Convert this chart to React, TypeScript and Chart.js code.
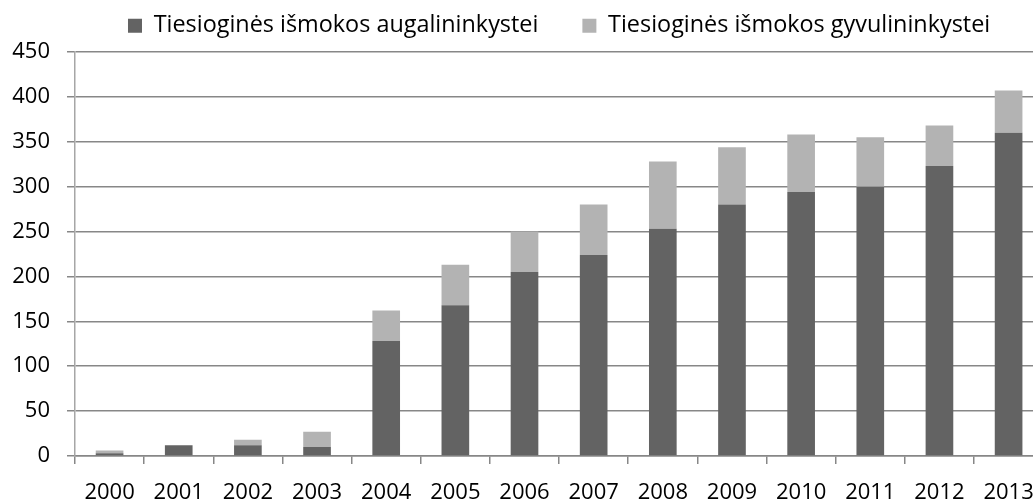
import React, { useEffect, useRef } from "react";
import { Chart, registerables } from "chart.js";

Chart.register(...registerables);

const years = ["2000", "2001", "2002", "2003", "2004", "2005", "2006", "2007", "2008", "2009", "2010", "2011", "2012", "2013"];
const cropPayments = [3, 12, 12, 10, 128, 168, 205, 224, 253, 280, 294, 300, 323, 360];
const livestockPayments = [3, 0, 6, 17, 34, 45, 45, 56, 75, 64, 64, 55, 45, 47];
const seriesLabels = ["Tiesioginės išmokos augalininkystei", "Tiesioginės išmokos gyvulininkystei"];
const yMin = 0;
const yMax = 450;
const yStep = 50;

const FONT = "'Open Sans', 'Noto Sans', sans-serif";

export default function App() {
  const ref = useRef<HTMLCanvasElement | null>(null);

  useEffect(() => {
    if (!ref.current) return;
    const chart = new Chart(ref.current, {
      type: "bar",
      data: {
        labels: years,
        datasets: [
          {
            label: seriesLabels[0],
            data: cropPayments,
            backgroundColor: "#636363",
            borderWidth: 0,
            barPercentage: 0.4,
            categoryPercentage: 1,
          },
          {
            label: seriesLabels[1],
            data: livestockPayments,
            backgroundColor: "#b3b3b3",
            borderWidth: 0,
            barPercentage: 0.4,
            categoryPercentage: 1,
          },
        ],
      },
      options: {
        responsive: false,
        animation: false,
        devicePixelRatio: 1,
        layout: { padding: { left: 0, right: 0, top: -30, bottom: 0 } },
        plugins: {
          tooltip: { enabled: false },
          legend: {
            position: "top",
            fullSize: false,
            labels: {
              boxWidth: 14,
              boxHeight: 14,
              padding: 44,
              color: "#000",
              font: { family: FONT, size: 23.4 },
            },
          },
        },
        scales: {
          x: {
            stacked: true,
            offset: true,
            grid: {
              offset: true,
              drawOnChartArea: false,
              drawTicks: true,
              tickLength: 8,
              color: "#878787",
              lineWidth: 1.5,
            },
            border: { display: true, color: "#878787", width: 1.5 },
            ticks: {
              color: "#000",
              font: { family: FONT, size: 22 },
              padding: 16,
              maxRotation: 0,
              autoSkip: false,
            },
            afterFit: (scale: any) => {
              scale.height = 46;
            },
          },
          y: {
            stacked: true,
            min: yMin,
            max: yMax,
            ticks: {
              stepSize: yStep,
              color: "#000",
              font: { family: FONT, size: 22 },
              padding: 17,
            },
            grid: {
              color: "#878787",
              lineWidth: 1.5,
              tickLength: 8,
              drawTicks: true,
            },
            border: { display: true, color: "#a6a6a6", width: 1.5 },
            afterFit: (scale: any) => {
              scale.width = 75;
            },
          },
        },
      },
    });
    const leg: any = chart.legend;
    if (leg) {
      const origFit = leg.fit.bind(leg);
      leg.fit = function () {
        origFit();
        this.height = 82;
      };
      chart.update();
    }
    return () => chart.destroy();
  }, []);

  return (
    <div
      style={{
        position: "fixed",
        left: 0,
        top: 0,
        width: 1033,
        height: 502,
        overflow: "hidden",
        background: "#fff",
      }}
    >
      <canvas ref={ref} width={1050} height={502} style={{ display: "block" }} />
    </div>
  );
}
